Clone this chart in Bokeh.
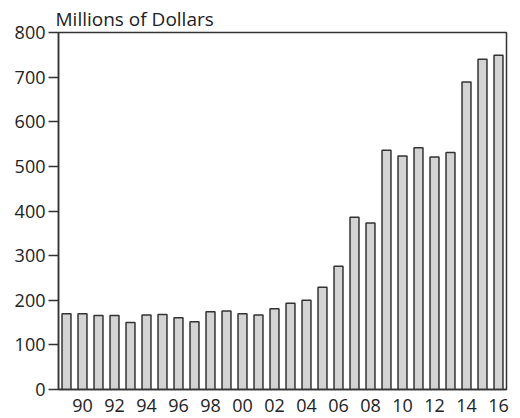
from bokeh.plotting import figure
from bokeh.models import FixedTicker, Range1d
from bokeh.embed import file_html
from bokeh.resources import INLINE

years = list(range(1989, 2017))
values = [170, 170, 166, 166, 150, 167, 168, 161, 152, 174, 176, 170, 167,
          181, 193, 200, 229, 276, 386, 373, 536, 523, 542, 521, 531, 689, 740, 749]
xtick_years = list(range(1990, 2017, 2))
xtick_labels = [str(y)[-2:] for y in xtick_years]
yticks = list(range(0, 801, 100))

FONT = "Open Sans"
TXT = "#222222"
LINE = "#333333"

p = figure(width=512, height=416, output_backend="svg", toolbar_location=None,
           x_range=Range1d(1988.5, 2016.5), y_range=Range1d(0, 800),
           min_border_left=58, min_border_right=6, min_border_top=32, min_border_bottom=27,
           title="Millions of Dollars")

p.title.align = "left"
p.title.offset = -3
p.title.standoff = 1
p.title.text_font = FONT
p.title.text_font_size = "19px"
p.title.text_font_style = "normal"
p.title.text_color = TXT

p.vbar(x=years, top=values, width=0.56, fill_color="#d3d3d3",
       line_color=LINE, line_width=1.5)

p.xgrid.visible = False
p.ygrid.visible = False
p.outline_line_color = LINE
p.outline_line_width = 1.5
p.outline_line_alpha = 1

xa = p.xaxis[0]
xa.ticker = FixedTicker(ticks=xtick_years)
xa.major_label_overrides = {y: l for y, l in zip(xtick_years, xtick_labels)}
xa.major_tick_line_color = None
xa.minor_tick_line_color = None
xa.axis_line_color = LINE
xa.axis_line_width = 1.5
xa.major_label_text_font = FONT
xa.major_label_text_font_size = "18px"
xa.major_label_text_color = TXT
xa.major_label_standoff = 3

ya = p.yaxis[0]
ya.ticker = FixedTicker(ticks=yticks)
ya.minor_tick_line_color = None
ya.major_tick_out = 10
ya.major_tick_in = 0
ya.major_tick_line_color = LINE
ya.major_tick_line_width = 1.5
ya.axis_line_color = LINE
ya.axis_line_width = 1.5
ya.major_label_text_font = FONT
ya.major_label_text_font_size = "18px"
ya.major_label_text_color = TXT
ya.major_label_standoff = 3

p.background_fill_color = "white"
p.border_fill_color = "white"

open("out.html", "w").write(file_html(p, INLINE))
